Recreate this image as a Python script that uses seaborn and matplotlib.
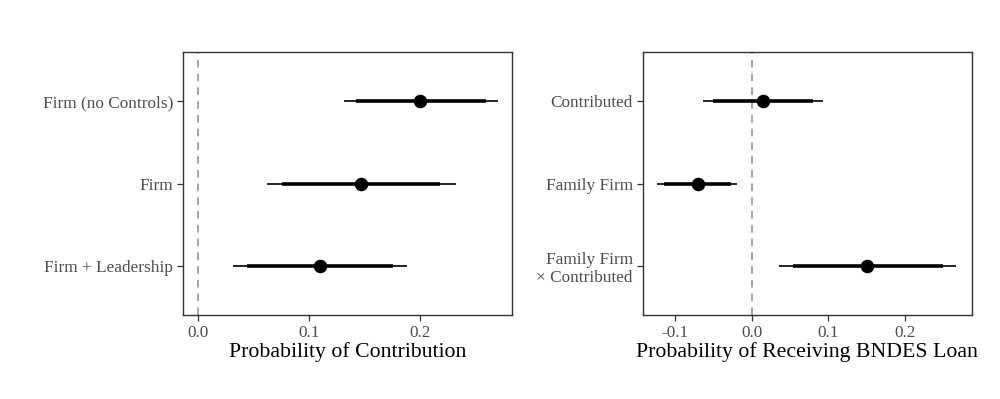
import numpy as np
import pandas as pd
import matplotlib
matplotlib.use("Agg")
import matplotlib.pyplot as plt
import seaborn as sns

# Dados: painel esquerdo (contribuição)
left_terms = ["Firm (no Controls)", "Firm", "Firm + Leadership"]
left_est = [0.200, 0.147, 0.110]
left_lo90 = [0.142, 0.075, 0.044]
left_hi90 = [0.259, 0.218, 0.175]
left_lo95 = [0.131, 0.062, 0.031]
left_hi95 = [0.270, 0.232, 0.188]

# Dados: painel direito (empréstimo BNDES)
right_terms = ["Contributed", "Family Firm", "Family Firm\n\u00d7 Contributed"]
right_est = [0.015, -0.070, 0.151]
right_lo90 = [-0.050, -0.114, 0.054]
right_hi90 = [0.080, -0.027, 0.249]
right_lo95 = [-0.063, -0.123, 0.035]
right_hi95 = [0.093, -0.019, 0.267]

left_df = pd.DataFrame({"term": left_terms, "est": left_est,
                        "lo90": left_lo90, "hi90": left_hi90,
                        "lo95": left_lo95, "hi95": left_hi95})
right_df = pd.DataFrame({"term": right_terms, "est": right_est,
                         "lo90": right_lo90, "hi90": right_hi90,
                         "lo95": right_lo95, "hi95": right_hi95})

sns.set_theme(style="ticks")
plt.rcParams["font.family"] = ["Liberation Serif", "DejaVu Serif"]

fig = plt.figure(figsize=(10, 3.99), dpi=100)
ax1 = fig.add_axes([0.183, 0.2105, 0.329, 0.6592])
ax2 = fig.add_axes([0.6427, 0.2105, 0.329, 0.6592])


def coef_panel(ax, df, xlim, xticks, xlabel):
    ax.axvline(0, color="#8c8c8c", lw=1.1, ls=(0, (5, 4)), zorder=1)
    ax.hlines(df["term"], df["lo95"], df["hi95"], color="black", lw=1.2, zorder=2)
    ax.hlines(df["term"], df["lo90"], df["hi90"], color="black", lw=2.6, zorder=3)
    sns.scatterplot(data=df, x="est", y="term", color="black", s=95,
                    edgecolor="black", linewidth=0, ax=ax, zorder=4)
    ax.set_ylim(2.6, -0.6)
    ax.set_xlim(*xlim)
    ax.set_xticks(xticks)
    ax.set_xticklabels(["{:.1f}".format(t) for t in xticks])
    ax.set_ylabel("")
    ax.set_xlabel(xlabel, fontsize=15.7, color="black", labelpad=1)
    ax.tick_params(axis="both", labelsize=12.4, labelcolor="#4d4d4d",
                   color="#333333", length=4, width=0.9, pad=3)
    for s in ax.spines.values():
        s.set_visible(True)
        s.set_color("#333333")
        s.set_linewidth(1.0)


coef_panel(ax1, left_df, (-0.0138, 0.2826), [0.0, 0.1, 0.2],
           "Probability of Contribution")
coef_panel(ax2, right_df, (-0.1422, 0.287), [-0.1, 0.0, 0.1, 0.2],
           "Probability of Receiving BNDES Loan")

fig.savefig("out.png", dpi=100)
